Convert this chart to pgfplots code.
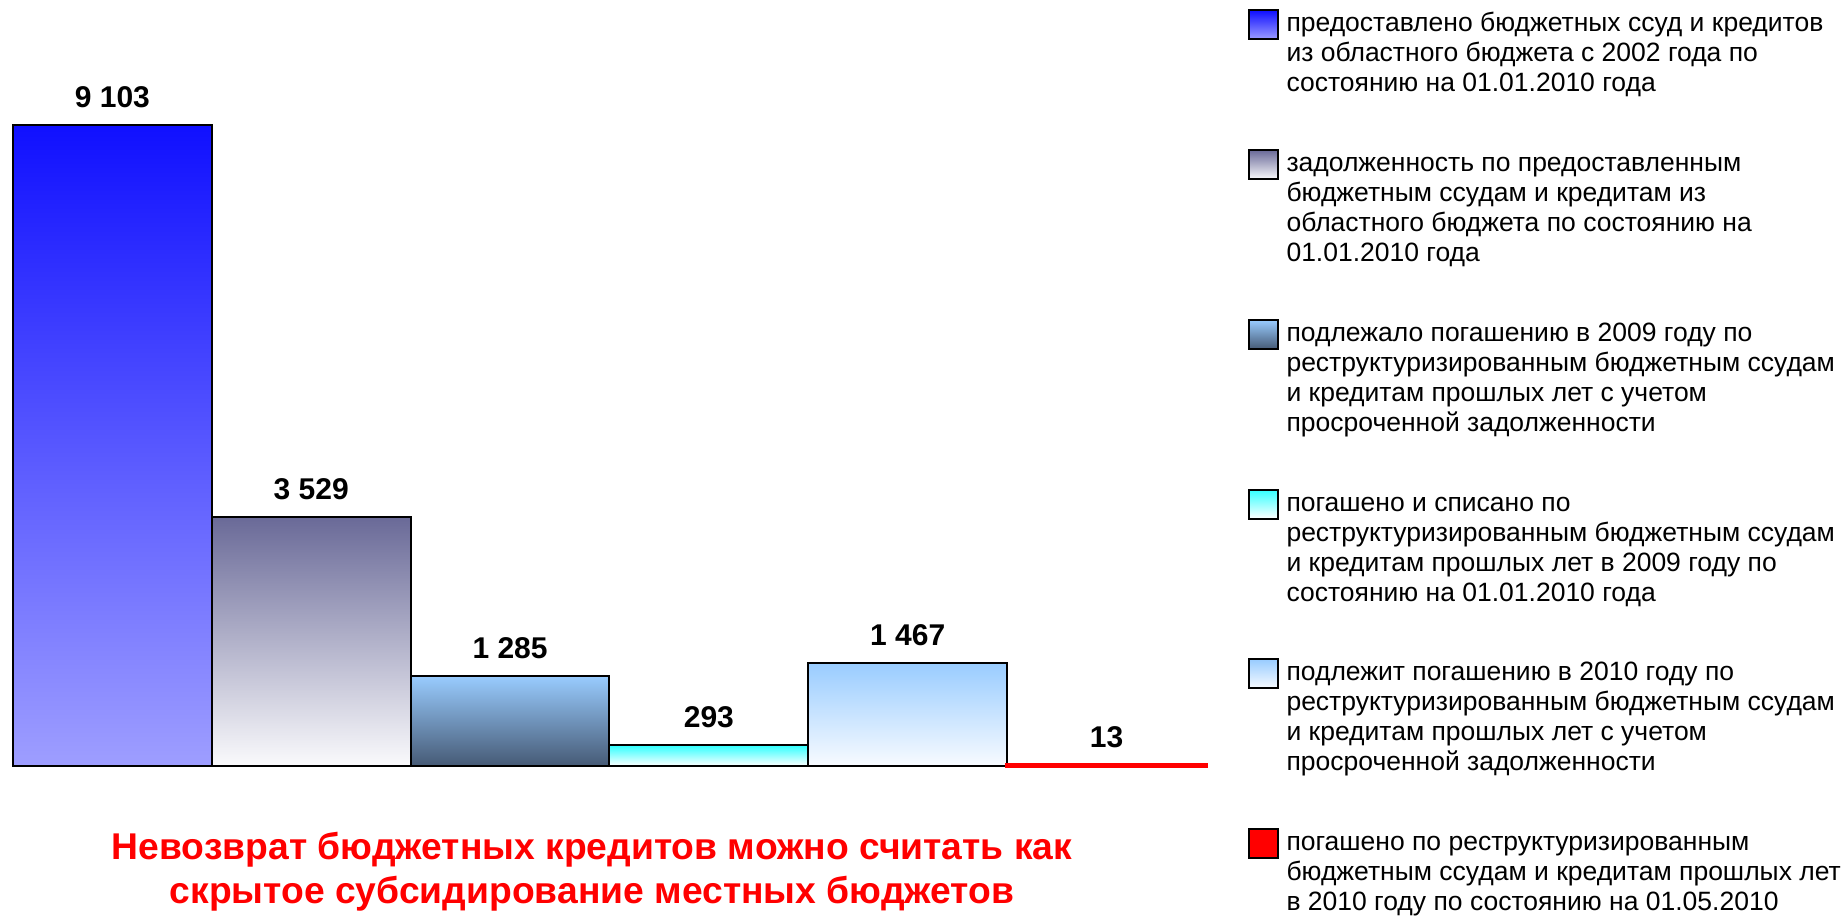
\documentclass[border=0pt]{standalone}
\usepackage{fontspec}
\setmainfont{Liberation Sans}
\usepackage{pgfplots}
\pgfplotsset{compat=1.18}
\definecolor{bAtop}{HTML}{1010FF}
\definecolor{bAbot}{HTML}{9E9EFF}
\definecolor{bBtop}{HTML}{6A6A98}
\definecolor{bBbot}{HTML}{FAFAFC}
\definecolor{bCtop}{HTML}{99CCFF}
\definecolor{bCbot}{HTML}{465A75}
\definecolor{bDtop}{HTML}{33FFFF}
\definecolor{bDbot}{HTML}{FFFFFF}
\definecolor{bEtop}{HTML}{99CCFF}
\definecolor{bEbot}{HTML}{F8FBFF}
\newcommand\lent[1]{\parbox[t]{240pt}{\raggedright\strut#1\strut}}
\newcommand\extent[1]{\pgfpathmoveto{\pgfpoint{0pt}{#1}}\pgfpathlineto{\pgfpoint{0pt}{0pt}}\pgfusepath{}}
\pgfplotsset{
  swA/.style={legend image code/.code={\draw[##1, line width=0.8pt] (0pt,-6.5pt) rectangle (11.6pt,5.1pt); \extent{-31.8pt}}},
  swB/.style={legend image code/.code={\draw[##1, line width=0.8pt] (0pt,-6.5pt) rectangle (11.6pt,5.1pt); \extent{-43.8pt}}},
  swR/.style={legend image code/.code={\draw[fill=red, draw=black, line width=0.8pt] (0pt,-6.5pt) rectangle (11.6pt,5.1pt); \extent{-31.8pt}}},
}
\begin{document}
\begin{tikzpicture}
\useasboundingbox (0,0) rectangle (738.4pt,368.8pt);
\begin{axis}[
  at={(5.2pt,62.4pt)}, anchor=south west,
  scale only axis, width=477.2pt, height=256.4pt,
  xmin=-0.5, xmax=5.5, ymin=0, ymax=9103,
  hide axis, clip=false,
  nodes near coords, point meta=explicit symbolic,
  every node near coord/.append style={font=\fontsize{12}{14}\selectfont\bfseries, text=black, anchor=base, yshift=7pt},
  legend cell align=left,
  legend style={at={(1.0348,1.1802)}, anchor=north west, draw=none, fill=none, inner sep=0pt, outer sep=0pt, row sep=18.6pt, column sep=3.2pt,
    font=\fontsize{10.6}{12}\selectfont,
    nodes={inner sep=0pt}},
]
\addplot[ybar, bar width=1, bar shift=0pt, draw=black, line width=0.8pt, top color=bAtop, bottom color=bAbot, swA] coordinates {(0,9103) [9 103]};
\addlegendentry{\lent{предоставлено бюджетных ссуд и кредитов\\из областного бюджета с 2002 года по\\состоянию на 01.01.2010 года}}
\addplot[ybar, bar width=1, bar shift=0pt, draw=black, line width=0.8pt, top color=bBtop, bottom color=bBbot, swB] coordinates {(1,3529) [3 529]};
\addlegendentry{\lent{задолженность по предоставленным\\бюджетным ссудам и кредитам из\\областного бюджета по состоянию на\\01.01.2010 года}}
\addplot[ybar, bar width=1, bar shift=0pt, draw=black, line width=0.8pt, top color=bCtop, bottom color=bCbot, swB] coordinates {(2,1285) [1 285]};
\addlegendentry{\lent{подлежало погашению в 2009 году по\\реструктуризированным бюджетным ссудам\\и кредитам прошлых лет с учетом\\просроченной задолженности}}
\addplot[ybar, bar width=1, bar shift=0pt, draw=black, line width=0.8pt, top color=bDtop, bottom color=bDbot, swB] coordinates {(3,293) [293]};
\addlegendentry{\lent{погашено и списано по\\реструктуризированным бюджетным ссудам\\и кредитам прошлых лет в 2009 году по\\состоянию на 01.01.2010 года}}
\addplot[ybar, bar width=1, bar shift=0pt, draw=black, line width=0.8pt, top color=bEtop, bottom color=bEbot, swB] coordinates {(4,1467) [1 467]};
\addlegendentry{\lent{подлежит погашению в 2010 году по\\реструктуризированным бюджетным ссудам\\и кредитам прошлых лет с учетом\\просроченной задолженности}}
\addplot[ybar, bar width=1, bar shift=0pt, draw=red, fill=red, line width=2pt, swR] coordinates {(5,13) [13]};
\addlegendentry{\lent{погашено по реструктуризированным\\бюджетным ссудам и кредитам прошлых лет\\в 2010 году по состоянию на 01.05.2010}}
\node[anchor=north, align=center, text=red, font=\fontsize{14.9}{17.4}\selectfont\bfseries, inner sep=0pt] at (axis description cs:0.4853,-0.103) {Невозврат бюджетных кредитов можно считать как\\скрытое субсидирование местных бюджетов};
\end{axis}
\end{tikzpicture}
\end{document}
